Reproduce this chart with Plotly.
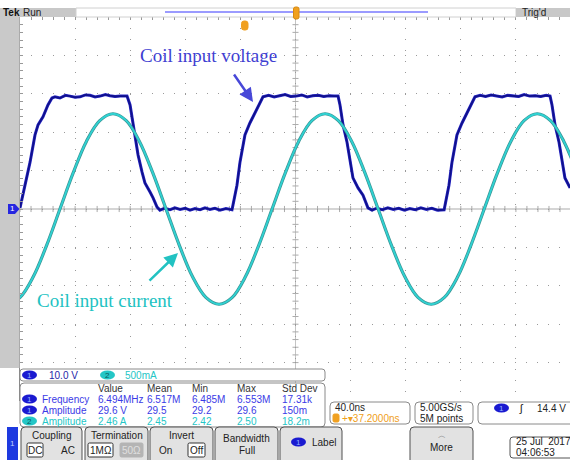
import plotly.graph_objects as go

# ---------------- data ----------------
# time in ns (40 ns/div, centre = 0), channel 1 in volts (10 V/div)
volt_t = [
    -200.0, -196.4, -192.7, -189.1, -186.9, -183.3, -179.7, -176.8, -174.6,
    -171.0, -167.0, -163.7, -160.0, -156.4, -152.5, -149.2, -145.5, -141.9, -138.0, -134.7, -131.0, -127.4, -122.3,
    -120.1, -118.0, -116.5, -114.3, -111.4, -109.3, -105.6, -103.4, -100.5, -98.4,
    -95.0, -91.1, -87.5, -83.8, -80.0, -76.6, -73.0, -69.3, -65.7, -62.1, -58.5, -54.8, -50.5, -46.1,
    -45.4, -42.5, -40.3, -36.7, -33.1, -29.4, -25.8, -23.6,
    -19.5, -15.5, -11.5, -7.5, -3.5, 0.5, 4.5, 8.5, 12.5, 16.5, 20.5, 24.5, 28.0, 30.9,
    32.3, 34.5, 37.4, 39.6, 41.7, 45.4, 49.0, 52.6, 55.5,
    59.0, 63.0, 67.0, 71.0, 75.0, 79.0, 83.0, 87.0, 91.0, 95.0, 99.0, 103.0, 107.9,
    108.5, 111.4, 113.6, 117.2, 120.9, 124.5, 128.1, 130.3,
    134.0, 138.0, 142.0, 146.0, 150.0, 154.0, 158.0, 162.0, 166.0, 170.0, 174.0, 178.0, 182.0, 184.8,
    186.2, 188.4, 191.3, 193.5, 195.6, 199.3]
volt_v = [
    0.3, 6.2, 12.2, 19.3, 21.9, 24.0, 27.1, 28.9, 29.2,
    28.9, 29.6, 29.4, 29.1, 29.2, 29.7, 29.6, 29.2, 29.4, 29.8, 29.5, 29.3, 29.4, 29.4,
    27.1, 21.9, 18.5, 14.1, 9.6, 6.8, 4.4, 2.9, 0.5, -0.3,
    0.2, -0.2, 0.3, -0.1, 0.2, -0.3, 0.1, -0.2, 0.3, -0.1, 0.2, -0.3, 0.1, -0.2,
    1.0, 6.2, 12.2, 19.3, 22.4, 25.0, 27.9, 29.2,
    29.6, 29.2, 29.5, 29.8, 29.3, 29.4, 29.7, 29.2, 29.5, 29.6, 29.3, 29.5, 29.4, 29.4,
    27.1, 21.9, 17.4, 12.2, 8.1, 5.5, 3.6, 0.3, -0.3,
    0.2, -0.2, 0.3, -0.1, 0.2, -0.3, 0.1, -0.2, 0.3, -0.1, 0.2, -0.3, -0.2,
    1.0, 6.2, 12.2, 19.3, 22.4, 25.0, 27.9, 29.2,
    29.6, 29.3, 29.7, 29.4, 29.2, 29.6, 29.5, 29.3, 29.8, 29.4, 29.5, 29.3, 29.6, 29.4,
    27.1, 21.9, 17.4, 12.2, 8.1, 5.5]

# channel 2 current in amps (500 mA/div)
curr_t = [-209.5, -199.9, -190.3, -180.6, -171.0, -161.4, -151.8, -142.1, -132.5, -122.9, -113.3,
          -103.6, -94.0, -84.4, -74.8, -65.1, -55.5, -45.9, -36.3, -26.6, -17.0, -7.4, 2.3, 11.9,
          21.5, 31.1, 40.8, 50.4, 60.0, 69.6, 79.3, 88.9, 98.5, 108.1, 117.8, 127.4, 137.0, 146.6,
          156.3, 165.9, 175.5, 185.1, 194.8, 204.4]
curr_a = [-1.24, -1.15, -0.88, -0.47, 0.0, 0.47, 0.88, 1.15, 1.24, 1.15, 0.88,
          0.47, 0.0, -0.47, -0.88, -1.15, -1.24, -1.15, -0.88, -0.47, 0.0, 0.47, 0.88, 1.15,
          1.24, 1.15, 0.88, 0.47, 0.0, -0.47, -0.88, -1.15, -1.24, -1.15, -0.88, -0.47, 0.0, 0.47,
          0.88, 1.15, 1.24, 1.15, 0.88, 0.47]

meas_header = ["Value", "Mean", "Min", "Max", "Std Dev"]
meas_ch = ["1", "1", "2"]
meas_name = ["Frequency", "Amplitude", "Amplitude"]
meas_vals = [["6.494MHz", "6.517M", "6.485M", "6.553M", "17.31k"],
             ["29.6 V", "29.5", "29.2", "29.6", "150m"],
             ["2.46 A", "2.45", "2.42", "2.50", "18.2m"]]

# ---------------- helpers (pixel -> paper) ----------------
W, H = 570, 460
def PX(x): return x / W
def PY(y): return 1 - y / H

BLUE_T = "#3a3ae6"
TEAL = "#24c6c6"
FONT = "Liberation Sans"

shapes = []
ann = []

def rrect(x0, y0, x1, y1, r=3, fill="white", line="#8a8a8a", lw=1):
    p = (f"M {PX(x0+r)},{PY(y0)} L {PX(x1-r)},{PY(y0)} Q {PX(x1)},{PY(y0)} {PX(x1)},{PY(y0+r)} "
         f"L {PX(x1)},{PY(y1-r)} Q {PX(x1)},{PY(y1)} {PX(x1-r)},{PY(y1)} "
         f"L {PX(x0+r)},{PY(y1)} Q {PX(x0)},{PY(y1)} {PX(x0)},{PY(y1-r)} "
         f"L {PX(x0)},{PY(y0+r)} Q {PX(x0)},{PY(y0)} {PX(x0+r)},{PY(y0)} Z")
    shapes.append(dict(type="path", path=p, xref="paper", yref="paper", fillcolor=fill,
                       line=dict(color=line, width=lw), layer="above"))

def rect(x0, y0, x1, y1, fill, line=None, lw=0):
    shapes.append(dict(type="rect", xref="paper", yref="paper", x0=PX(x0), x1=PX(x1),
                       y0=PY(y1), y1=PY(y0), fillcolor=fill,
                       line=dict(color=line or fill, width=lw), layer="above"))

def oval(x0, y0, x1, y1, fill):
    shapes.append(dict(type="circle", xref="paper", yref="paper", x0=PX(x0), x1=PX(x1),
                       y0=PY(y1), y1=PY(y0), fillcolor=fill, line=dict(color=fill, width=0),
                       layer="above"))

def txt(x, y, s, size=10, color="#222", anchor="left", family=FONT):
    ann.append(dict(x=PX(x), y=PY(y), xref="paper", yref="paper", text=s, showarrow=False,
                    xanchor=anchor, yanchor="middle", font=dict(size=size, color=color, family=family)))

def chip(x, y, label, fill, tcol):
    oval(x, y - 4.5, x + 15, y + 4.5, fill)
    txt(x + 7.5, y, label, 8, tcol, "center")

# ---------------- figure ----------------
fig = go.Figure()
fig.add_trace(go.Scatter(x=volt_t, y=volt_v, mode="lines", line=dict(color="#2a2ac8", width=3.0),
                         hoverinfo="skip"))
fig.add_trace(go.Scatter(x=volt_t, y=volt_v, mode="lines", line=dict(color="#10108c", width=1.8),
                         name="Coil input voltage"))
fig.add_trace(go.Scatter(x=curr_t, y=curr_a, yaxis="y2", mode="lines", line_shape="spline",
                         line=dict(color="#3a9494", width=3.2), hoverinfo="skip"))
fig.add_trace(go.Scatter(x=curr_t, y=curr_a, yaxis="y2", mode="lines", line_shape="spline",
                         line=dict(color="#30d2d2", width=1.8), name="Coil input current"))

# centre crosshair with ticks (data coordinates)
GC = "#ababab"
shapes.append(dict(type="line", xref="x", yref="y", x0=-200, x1=200, y0=0, y1=0,
                   line=dict(color=GC, width=1), layer="below"))
shapes.append(dict(type="line", xref="x", yref="y", x0=0, x1=0, y0=-50, y1=50,
                   line=dict(color="#c4c4c4", width=1), layer="below"))
for k in range(-25, 26):
    shapes.append(dict(type="line", xref="x", yref="y", x0=k * 8, x1=k * 8, y0=-0.8, y1=0.8,
                       line=dict(color=GC, width=1), layer="below"))
    shapes.append(dict(type="line", xref="x", yref="y", x0=-2.2, x1=2.2, y0=k * 2, y1=k * 2,
                       line=dict(color=GC, width=1), layer="below"))

# ---- top status bar ----
rect(0, 8, 76, 17, "#c8c8c8")
txt(1, 12.5, "<b>Tek</b>", 10, "#111")
txt(21, 12.5, "Run", 10, "#222")
rect(76, 8, 516, 17, "white", "#d0d0d0", 1)
shapes.append(dict(type="line", xref="paper", yref="paper", x0=PX(165), x1=PX(428), y0=PY(12), y1=PY(12),
                   line=dict(color="#7a7aff", width=1.5), layer="above"))
rrect(293.5, 7, 299, 19, r=2, fill="#f0a020", line="#d88a10")
rect(516, 8, 570, 17, "#c8c8c8")
txt(520, 12.5, "Trig'd", 10, "#222")
rrect(241.5, 21, 248, 30, r=2.5, fill="#f0a020", line="#f0a020")

# ---- left strip and ch1 ground marker ----
rect(0, 17, 19.5, 368, "#c9c9c9")
p = (f"M {PX(8)},{PY(204)} L {PX(15)},{PY(204)} L {PX(19.5)},{PY(209)} L {PX(15)},{PY(214)} "
     f"L {PX(8)},{PY(214)} Z")
shapes.append(dict(type="path", path=p, xref="paper", yref="paper", fillcolor="#2626e0",
                   line=dict(color="#2626e0", width=0), layer="above"))
txt(12.5, 209, "1", 8, "white", "center")

# ---- channel scale row ----
rrect(20, 369, 325, 381, r=3)
chip(22, 375, "1", "#1a1ad0", "#8fb0ff")
txt(47, 375, "10.0 V", 10, "#2525a8")
chip(100, 375, "2", TEAL, "#0a5a5a")
txt(123, 375, "500mA", 10, TEAL)

# ---- measurement table ----
rrect(20, 383, 325, 427, r=4)
col_x = [96, 145, 190, 235, 280]
for cx, h in zip(col_x, meas_header):
    txt(cx, 388, h, 10, "#333")
row_y = [399, 410, 421]
for ry, ch, nm, vals in zip(row_y, meas_ch, meas_name, meas_vals):
    col = BLUE_T if ch == "1" else TEAL
    chip(22, ry, ch, "#1a1ad0" if ch == "1" else TEAL, "#8fb0ff" if ch == "1" else "#0a5a5a")
    txt(40, ry, nm, 10, col)
    for cx, v in zip(col_x, vals):
        txt(cx, ry, v, 10, col)

# ---- status boxes ----
rrect(330, 402, 410, 424, r=4)
txt(333, 407.5, "40.0ns", 10, "#222")
rrect(333, 414, 339, 422, r=1.5, fill="#f0a020", line="#f0a020")
txt(340, 418.5, "+▾37.2000ns", 10, "#f0a020")
rrect(415, 402, 473, 424, r=4)
txt(418, 407.5, "5.00GS/s", 10, "#222")
txt(418, 418.5, "5M points", 10, "#222")
rrect(478, 402, 575, 424, r=4)
chip(494, 408, "1", "#1a1ad0", "#8fb0ff")
txt(517, 408, "ʃ", 11, "#222")
txt(568, 408, "14.4 V", 10, "#222", "right")

# ---- bottom buttons ----
rect(7, 427, 18, 460, "#1e3ae0")
txt(12.5, 443, "1", 8, "#c0d0ff", "center")
BF, BL = "#e2e2e2", "#505050"
rrect(21, 427, 82, 464, r=4, fill=BF, line=BL)
txt(51.5, 435, "Coupling", 10, "#222", "center")
rrect(27, 443, 43, 457, r=1.5, fill="white", line="#333")
txt(35, 450, "DC", 10, "#222", "center")
txt(67.5, 450, "AC", 10, "#222", "center")
rrect(85, 427, 148, 464, r=4, fill=BF, line=BL)
txt(116.5, 435, "Termination", 10, "#222", "center")
rrect(88, 443, 113, 457, r=1.5, fill="white", line="#333")
txt(100.5, 450, "1MΩ", 10, "#222", "center")
rrect(120, 443, 143, 457, r=1.5, fill="#b4b4b4", line="#b4b4b4")
txt(131.5, 450, "50Ω", 10, "#e0e0e0", "center")
rrect(150, 427, 213, 464, r=4, fill=BF, line=BL)
txt(181.5, 435, "Invert", 10, "#222", "center")
txt(165, 450, "On", 10, "#222", "center")
rrect(188, 443, 205, 457, r=1.5, fill="white", line="#333")
txt(196.5, 450, "Off", 10, "#222", "center")
rrect(215, 427, 278, 464, r=4, fill=BF, line=BL)
txt(246.5, 438, "Bandwidth", 10, "#222", "center")
txt(246.5, 450, "Full", 10, "#222", "center")
rrect(280, 427, 342, 464, r=4, fill=BF, line=BL)
chip(291, 442, "1", "#1a1ad0", "#8fb0ff")
txt(310, 442, "Label", 10, "#222")
rrect(410, 427, 473, 464, r=4, fill=BF, line=BL)
txt(441.5, 435, "︿", 8, "#888", "center")
txt(441.5, 447, "More", 10, "#222", "center")
rrect(510, 437, 575, 458, r=3, fill="white", line="#555")
txt(514, 441.5, "25 Jul  2017", 10, "#222")
txt(514, 452, "04:06:53", 10, "#222")

# ---- callouts ----
ann.append(dict(x=PX(138), y=PY(56), xref="paper", yref="paper", text="Coil input voltage",
                showarrow=False, xanchor="left", yanchor="middle",
                font=dict(family="Liberation Serif", size=19, color="#3f3fd2")))
ann.append(dict(x=PX(253), y=PY(102), xref="paper", yref="paper", text="", showarrow=True,
                ax=-20, ay=-29, arrowhead=2, arrowsize=1.1, arrowwidth=2.5, arrowcolor="#4848d8"))
ann.append(dict(x=PX(35), y=PY(300), xref="paper", yref="paper", text="Coil input current",
                showarrow=False, xanchor="left", yanchor="middle",
                font=dict(family="Liberation Serif", size=19, color="#22c2c2")))
ann.append(dict(x=PX(178), y=PY(253), xref="paper", yref="paper", text="", showarrow=True,
                ax=-30, ay=29, arrowhead=2, arrowsize=1.1, arrowwidth=2.5, arrowcolor="#22c2c2"))

fig.update_layout(
    width=W, height=H, margin=dict(l=0, r=0, t=0, b=0),
    paper_bgcolor="white", plot_bgcolor="white", showlegend=False,
    xaxis=dict(domain=[20 / W, 1], range=[-200, 199.27], tick0=-200, dtick=40,
               showgrid=True, gridcolor="#9a9a9a", griddash="1px,10px", gridwidth=1,
               showticklabels=False, zeroline=False, showline=True, linecolor="#8a8a8a",
               side="top", ticks="inside", ticklen=3, tickcolor="#999",
               minor=dict(dtick=8, tick0=-200, ticks="inside", ticklen=3, tickcolor="#999", showgrid=False)),
    yaxis=dict(domain=[1 - 401 / H, 1 - 17 / H], range=[-50, 50], tick0=-50, dtick=10,
               showgrid=True, gridcolor="#9a9a9a", griddash="1px,10px", gridwidth=1,
               showticklabels=False, zeroline=False, showline=True, linecolor="#8a8a8a",
               ticks="inside", ticklen=3, tickcolor="#999",
               minor=dict(dtick=2, tick0=-50, ticks="inside", ticklen=3, tickcolor="#999", showgrid=False)),
    yaxis2=dict(overlaying="y", range=[-2.5, 2.5], visible=False),
    shapes=shapes, annotations=ann,
)
fig.write_html("out.html")
